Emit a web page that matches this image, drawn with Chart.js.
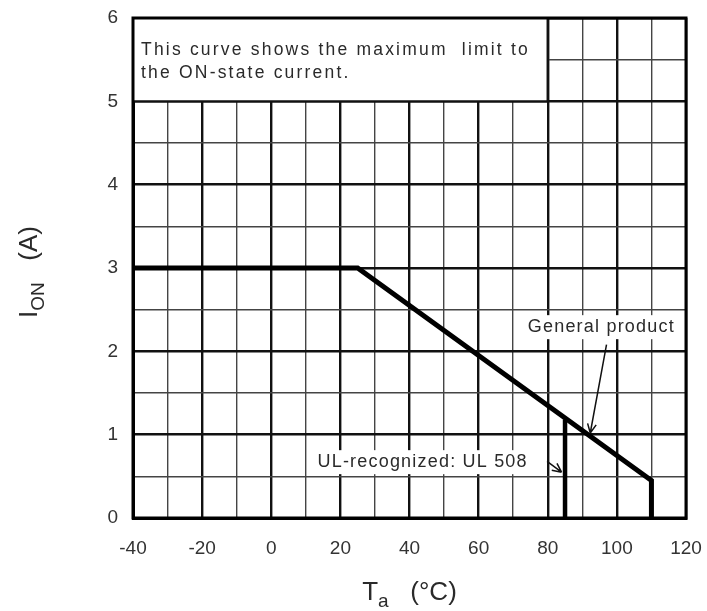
<!DOCTYPE html>
<html>
<head>
<meta charset="utf-8">
<script src="https://cdn.jsdelivr.net/npm/chart.js@4"></script>
<style>
  body { margin: 0; background: #fff; }
  #wrap { width: 707px; height: 611px; }
</style>
</head>
<body>
<div id="wrap"><canvas id="ionChart"></canvas></div>
<script>
// Derating curve data (Ta in degC, Ion in A)
const generalTa = [-40, 25, 110, 110];
const generalIon = [3, 3, 0.45, 0];
const ulTa = [85, 85];
const ulIon = [0, 1.18];

const xTicks = [-40, -20, 0, 20, 40, 60, 80, 100, 120];
const yTicks = [0, 1, 2, 3, 4, 5, 6];

const noteLines = ["This curve shows the maximum  limit to", "the ON-state current."];

const toPoints = (xs, ys) => xs.map((x, i) => ({ x: x, y: ys[i] }));
const FONT = "'Liberation Sans', Arial, sans-serif";

// note box, labels and arrows (drawn over the grid)
const extrasPlugin = {
    id: "extras",
    beforeDatasetsDraw(chart) {
        const { ctx, scales: { x, y } } = chart;
        // white note box in the top-left corner
        const l = x.getPixelForValue(-40), r = x.getPixelForValue(80);
        const t = y.getPixelForValue(6), b = y.getPixelForValue(5);
        ctx.save();
        ctx.fillStyle = "#fff";
        ctx.fillRect(l, t, r - l, b - t);
        ctx.strokeStyle = "#111";
        ctx.lineWidth = 2.4;
        ctx.beginPath();
        ctx.moveTo(l, b); ctx.lineTo(r, b); ctx.lineTo(r, t);
        ctx.stroke();
        ctx.fillStyle = "#2a2a2a";
        ctx.font = "17.5px " + FONT;
        ctx.letterSpacing = "2.2px";
        ctx.textAlign = "left";
        ctx.textBaseline = "alphabetic";
        ctx.fillText(noteLines[0], l + 8, t + 37);
        ctx.fillText(noteLines[1], l + 8, t + 60);

        // label backgrounds
        ctx.font = "18px " + FONT;
        ctx.letterSpacing = "1.2px";
        ctx.textAlign = "center";
        ctx.textBaseline = "middle";
        const labels = [
            { text: "General product", x: 95.5, y: 2.29 },
            { text: "UL-recognized: UL 508", x: 43.8, y: 0.67 }
        ];
        labels.forEach(lb => {
            const px = x.getPixelForValue(lb.x), py = y.getPixelForValue(lb.y);
            const w = ctx.measureText(lb.text).width + 8;
            ctx.fillStyle = "#fff";
            ctx.fillRect(px - w / 2, py - 12, w, 24);
            ctx.fillStyle = "#2a2a2a";
            ctx.fillText(lb.text, px, py);
        });
        ctx.restore();
    },
    afterDatasetsDraw(chart) {
        const { ctx, scales: { x, y } } = chart;
        const area = chart.chartArea;
        ctx.save();
        // frame
        ctx.strokeStyle = "#000";
        ctx.lineWidth = 3;
        ctx.strokeRect(area.left, area.top, area.right - area.left, area.bottom - area.top);

        ctx.strokeStyle = "#111";
        ctx.lineWidth = 1.5;
        const arrow = (x1, y1, x2, y2) => {
            const a = x.getPixelForValue(x1), b = y.getPixelForValue(y1);
            const c = x.getPixelForValue(x2), d = y.getPixelForValue(y2);
            ctx.beginPath();
            ctx.moveTo(a, b); ctx.lineTo(c, d);
            const ang = Math.atan2(d - b, c - a);
            ctx.moveTo(c, d);
            ctx.lineTo(c - 10 * Math.cos(ang - 0.45), d - 10 * Math.sin(ang - 0.45));
            ctx.moveTo(c, d);
            ctx.lineTo(c - 10 * Math.cos(ang + 0.45), d - 10 * Math.sin(ang + 0.45));
            ctx.stroke();
        };
        arrow(97, 2.08, 92.3, 1.02);
        arrow(79.8, 0.68, 84, 0.55);
        ctx.restore();

        // axis titles with subscripts
        ctx.save();
        ctx.fillStyle = "#2a2a2a";
        ctx.textBaseline = "alphabetic";
        ctx.textAlign = "left";
        const big = "26px " + FONT;
        const small = "19px " + FONT;
        // x title: Ta (°C)
        ctx.font = big;
        const wT = ctx.measureText("T").width;
        const wRest = ctx.measureText("   (°C)").width;
        ctx.font = small;
        const wa = ctx.measureText("a").width;
        let sx = (area.left + area.right) / 2 - (wT + wa + wRest) / 2;
        const by = 600;
        ctx.font = big; ctx.fillText("T", sx, by);
        ctx.font = small; ctx.fillText("a", sx + wT, by + 7);
        ctx.font = big; ctx.fillText("   (°C)", sx + wT + wa, by);

        // y title: ION (A), rotated
        ctx.translate(37, 272);
        ctx.rotate(-Math.PI / 2);
        ctx.font = big;
        const wI = ctx.measureText("I").width;
        const wA = ctx.measureText("   (A)").width;
        ctx.font = small;
        const wON = ctx.measureText("ON").width;
        sx = -(wI + wON + wA) / 2;
        ctx.font = big; ctx.fillText("I", sx, 0);
        ctx.font = small; ctx.fillText("ON", sx + wI, 7);
        ctx.font = big; ctx.fillText("   (A)", sx + wI + wON, 0);
        ctx.restore();
    }
};

const gridColor = (major) => major ? "#111" : "#444";

const ionChart = new Chart(document.getElementById("ionChart"), {
    type: "scatter",
    data: {
        datasets: [
            {
                label: "General product",
                data: toPoints(generalTa, generalIon),
                showLine: true,
                borderColor: "#000",
                borderWidth: 5,
                pointRadius: 0,
                borderJoinStyle: "miter",
                borderCapStyle: "butt"
            },
            {
                label: "UL-recognized: UL 508",
                data: toPoints(ulTa, ulIon),
                showLine: true,
                borderColor: "#000",
                borderWidth: 4.5,
                pointRadius: 0
            }
        ]
    },
    options: {
        responsive: true,
        maintainAspectRatio: false,
        animation: false,
        layout: { padding: { top: 18, right: 21, left: 0, bottom: 0 } },
        plugins: { legend: { display: false }, tooltip: { enabled: false } },
        scales: {
            x: {
                type: "linear",
                min: -40, max: 120,
                afterFit: (s) => { s.height = 93; s.paddingLeft = 0; s.paddingRight = 0; },
                border: { display: true, color: "#000", width: 3 },
                grid: {
                    drawTicks: false,
                    color: (c) => gridColor(c.tick.value % 20 === 0),
                    lineWidth: (c) => c.tick.value % 20 === 0 ? 2.4 : 1.4
                },
                ticks: {
                    stepSize: 10,
                    padding: 19,
                    autoSkip: false,
                    maxRotation: 0,
                    minRotation: 0,
                    color: "#333",
                    font: { family: FONT, size: 19 },
                    callback: (v) => xTicks.includes(v) ? String(v) : ""
                }
            },
            y: {
                type: "linear",
                min: 0, max: 6,
                afterFit: (s) => { s.width = 133; s.paddingTop = 0; s.paddingBottom = 0; },
                border: { display: true, color: "#000", width: 3 },
                grid: {
                    drawTicks: false,
                    color: (c) => gridColor(Number.isInteger(c.tick.value)),
                    lineWidth: (c) => Number.isInteger(c.tick.value) ? 2.4 : 1.4
                },
                ticks: {
                    stepSize: 0.5,
                    padding: 15,
                    autoSkip: false,
                    color: "#333",
                    font: { family: FONT, size: 19 },
                    callback: (v) => yTicks.includes(v) ? String(v) : ""
                }
            }
        }
    },
    plugins: [extrasPlugin]
});
</script>
</body>
</html>
